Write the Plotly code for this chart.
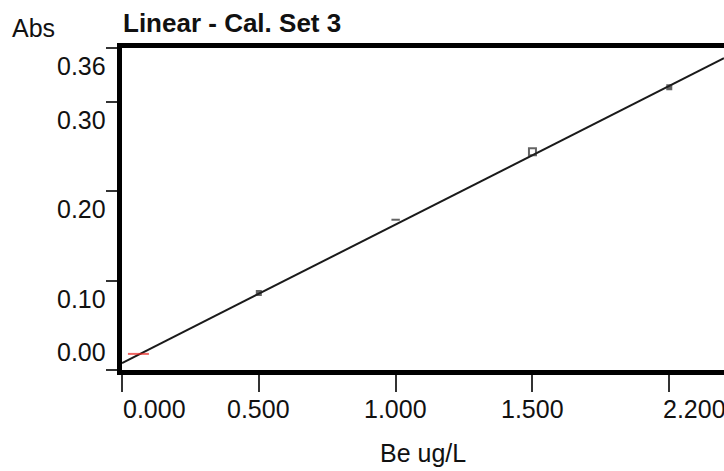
import plotly.graph_objects as go

# ---- data ----
std_x = [0.06, 0.5, 1.0, 1.5, 2.0]          # standard positions on the x scale
std_abs = [0.018, 0.086, 0.168, 0.244, 0.316]  # measured absorbance
std_symbol = ["line-ew-open", "square", "line-ew-open", "square-open", "square"]
std_color = ["#e8231f", "#222222", "#222222", "#222222", "#222222"]
std_size = [15, 4, 6, 7, 4]

fit_intercept = 0.0078
fit_slope = 0.1549

x_tickvals = [0.0, 0.5, 1.0, 1.5, 2.0]
x_ticktext = ["0.000", "0.500", "1.000", "1.500", "2.200"]
y_tickvals = [0.36, 0.30, 0.20, 0.10, 0.00]
y_ticktext = ["0.36", "0.30", "0.20", "0.10", "0.00"]

x_range = [0.0, 2.2]
y_range = [0.0, 0.36]

FONT = "Liberation Sans, Arial, sans-serif"
TXT = "#111111"

fit_x = [x_range[0], x_range[1]]
fit_y = [fit_intercept + fit_slope * v for v in fit_x]

fig = go.Figure()
fig.add_trace(go.Scatter(
    x=fit_x, y=fit_y, mode="lines",
    line=dict(color="#1a1a1a", width=2),
    hoverinfo="skip", showlegend=False,
))
fig.add_trace(go.Scatter(
    x=std_x, y=std_abs, mode="markers",
    marker=dict(symbol=std_symbol, color=std_color, size=std_size,
                line=dict(color=std_color, width=2)),
    showlegend=False,
))

annotations = []
# y tick labels (placed below their ticks, last one above)
y_shift = [-18, -18, -18, -18, 18]
for v, t, s in zip(y_tickvals, y_ticktext, y_shift):
    annotations.append(dict(
        x=0, xref="paper", y=v, yref="y", text=t, showarrow=False,
        xanchor="right", yanchor="middle", xshift=-14, yshift=s,
        font=dict(family=FONT, size=25, color=TXT)))
# x tick labels
x_anchor = ["left", "center", "center", "center", "left"]
x_shift = [-1, 0, 0, 0, -8]
for v, t, a, s in zip(x_tickvals, x_ticktext, x_anchor, x_shift):
    annotations.append(dict(
        x=v, xref="x", y=0, yref="paper", text=t, showarrow=False,
        xanchor=a, yanchor="middle", xshift=s, yshift=-39,
        font=dict(family=FONT, size=25, color=TXT)))
# axis titles and chart title
annotations.append(dict(
    x=0.5, xref="paper", y=0, yref="paper", text="Be ug/L", showarrow=False,
    xanchor="center", yanchor="middle", yshift=-83,
    font=dict(family=FONT, size=25, color=TXT)))
annotations.append(dict(
    x=0, xref="paper", y=1, yref="paper", text="Abs", showarrow=False,
    xanchor="left", yanchor="middle", xshift=-112, yshift=20,
    font=dict(family=FONT, size=25, color=TXT)))
annotations.append(dict(
    x=0, xref="paper", y=1, yref="paper", text="<b>Linear - Cal. Set 3</b>",
    showarrow=False, xanchor="left", yanchor="middle", xshift=-1, yshift=25,
    font=dict(family=FONT, size=26, color=TXT)))

fig.update_layout(
    width=724, height=471,
    margin=dict(l=122, r=0, t=48, b=101, pad=0),
    paper_bgcolor="white", plot_bgcolor="white",
    annotations=annotations,
    xaxis=dict(
        range=x_range, tickvals=x_tickvals, showticklabels=False,
        showgrid=False, zeroline=False,
        showline=True, linecolor="black", linewidth=5, mirror=True,
        ticks="outside", ticklen=17, tickwidth=2, tickcolor="#333333",
    ),
    yaxis=dict(
        range=y_range, tickvals=y_tickvals, showticklabels=False,
        showgrid=False, zeroline=False,
        showline=True, linecolor="black", linewidth=5,
        ticks="outside", ticklen=11, tickwidth=2, tickcolor="#333333",
    ),
)

fig.write_html(
    "out.html",
    config={"displayModeBar": False},
    post_script="document.body.style.margin='0';document.body.style.overflow='hidden';",
)
